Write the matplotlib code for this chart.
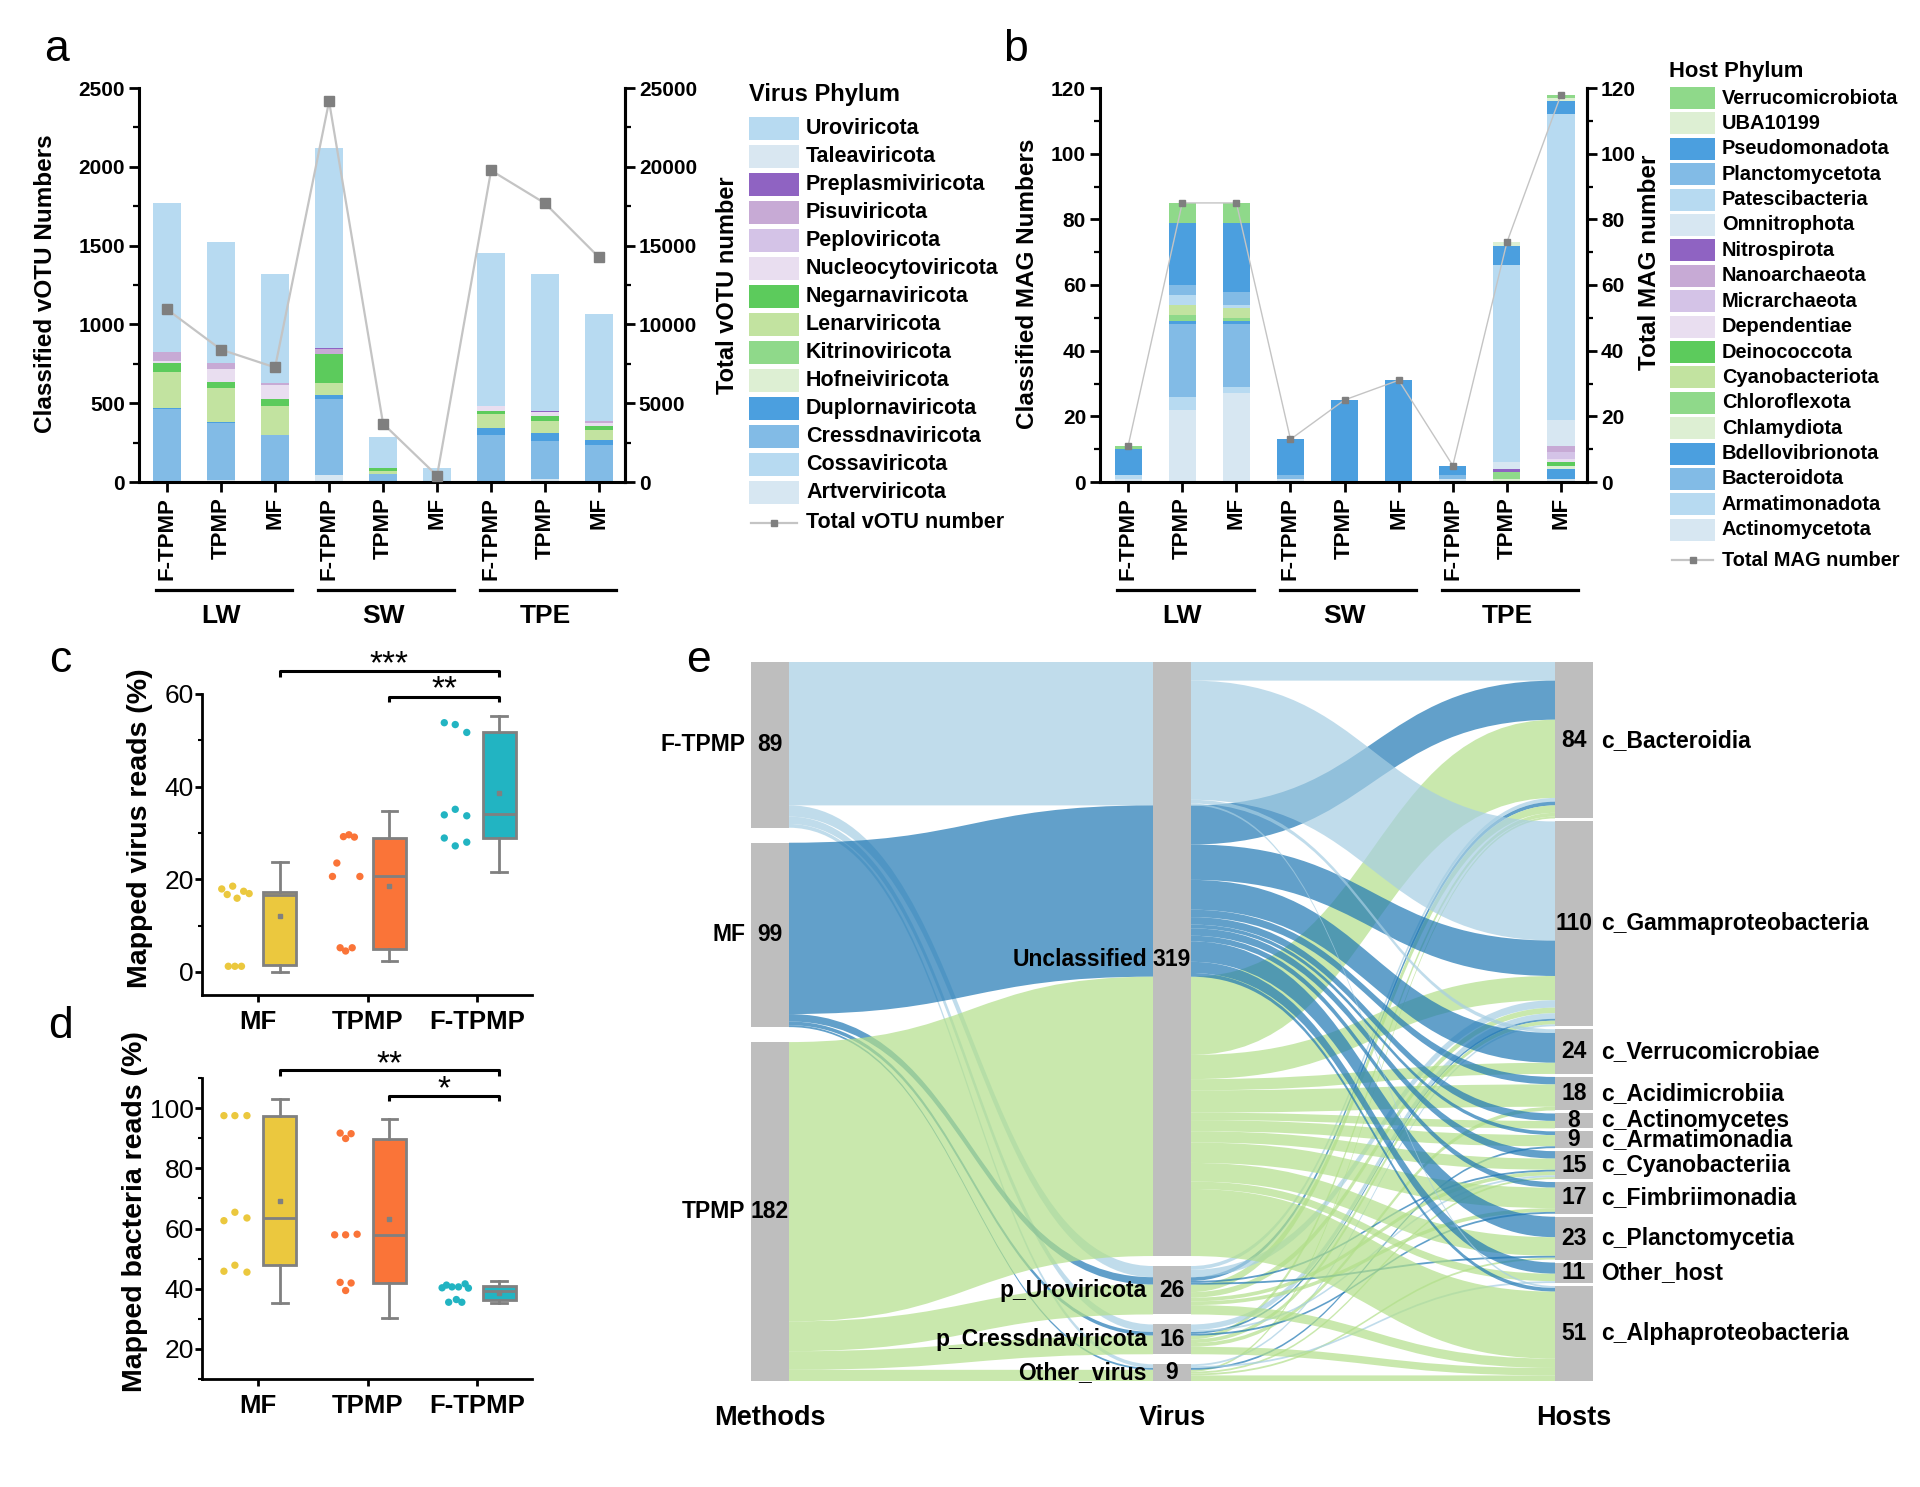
import numpy as np
import matplotlib
matplotlib.use('Agg')
import matplotlib.pyplot as plt
from matplotlib.patches import Rectangle, PathPatch
from matplotlib.path import Path
from matplotlib.lines import Line2D
import matplotlib.transforms as mtransforms
from matplotlib.ticker import MultipleLocator

plt.rcParams['font.family'] = ['Liberation Sans', 'DejaVu Sans']

# ------------------------------------------------------------------ data
samples = ['F-TPMP', 'TPMP', 'MF', 'F-TPMP', 'TPMP', 'MF', 'F-TPMP', 'TPMP', 'MF']
sites = ['LW', 'SW', 'TPE']

# panel a : classified vOTU numbers per virus phylum (legend order top -> bottom)
virus_phyla = ['Uroviricota', 'Taleaviricota', 'Preplasmiviricota', 'Pisuviricota',
               'Peploviricota', 'Nucleocytoviricota', 'Negarnaviricota', 'Lenarviricota',
               'Kitrinoviricota', 'Hofneiviricota', 'Duplornaviricota', 'Cressdnaviricota',
               'Cossaviricota', 'Artverviricota']
uroviricota = [949, 771, 689, 1271, 199, 91, 970, 867, 678]
taleaviricota = [0, 0, 0, 0, 0, 0, 0, 0, 0]
preplasmiviricota = [0, 0, 0, 8, 0, 0, 0, 8, 0]
pisuviricota = [57, 34, 16, 30, 0, 0, 0, 0, 12]
peploviricota = [0, 0, 0, 0, 0, 0, 0, 0, 0]
nucleocytoviricota = [15, 84, 89, 0, 0, 0, 29, 26, 21]
negarnaviricota = [55, 36, 39, 182, 17, 0, 21, 34, 22]
lenarviricota = [226, 218, 184, 79, 17, 0, 85, 74, 67]
kitrinoviricota = [0, 0, 0, 0, 0, 0, 0, 0, 0]
hofneiviricota = [0, 0, 0, 0, 0, 0, 0, 0, 0]
duplornaviricota = [5, 5, 5, 21, 0, 0, 49, 51, 32]
cressdnaviricota = [461, 365, 291, 487, 53, 0, 291, 239, 228]
cossaviricota = [0, 0, 0, 0, 0, 0, 0, 0, 0]
artverviricota = [5, 10, 5, 42, 0, 0, 5, 21, 5]
total_votu = [10950, 8400, 7270, 24150, 3700, 400, 19770, 17680, 14250]

virus_values = dict(zip(virus_phyla, [uroviricota, taleaviricota, preplasmiviricota, pisuviricota,
                                      peploviricota, nucleocytoviricota, negarnaviricota, lenarviricota,
                                      kitrinoviricota, hofneiviricota, duplornaviricota, cressdnaviricota,
                                      cossaviricota, artverviricota]))

# panel b : classified MAG numbers per host phylum (legend order top -> bottom)
host_phyla = ['Verrucomicrobiota', 'UBA10199', 'Pseudomonadota', 'Planctomycetota',
              'Patescibacteria', 'Omnitrophota', 'Nitrospirota', 'Nanoarchaeota',
              'Micrarchaeota', 'Dependentiae', 'Deinococcota', 'Cyanobacteriota',
              'Chloroflexota', 'Chlamydiota', 'Bdellovibrionota', 'Bacteroidota',
              'Armatimonadota', 'Actinomycetota']
verrucomicrobiota = [1, 6, 6, 0, 0, 0, 0, 0, 1]
uba10199 = [0, 0, 0, 0, 0, 0, 0, 1, 1]
pseudomonadota = [8, 19, 21, 11, 25, 31, 3, 6, 4]
planctomycetota = [0, 3, 4, 0, 0, 0, 0, 0, 0]
patescibacteria = [0, 3, 1, 0, 0, 0, 0, 60, 93]
omnitrophota = [0, 0, 0, 0, 0, 0, 0, 2, 8]
nitrospirota = [0, 0, 0, 0, 0, 0, 0, 1, 0]
nanoarchaeota = [0, 0, 0, 0, 0, 0, 0, 0, 2]
micrarchaeota = [0, 0, 0, 0, 0, 0, 0, 0, 2]
dependentiae = [0, 0, 0, 0, 0, 0, 0, 0, 1]
deinococcota = [0, 0, 0, 0, 0, 0, 0, 0, 1]
cyanobacteriota = [0, 3, 3, 0, 0, 0, 0, 0, 0]
chloroflexota = [0, 2, 1, 0, 0, 0, 0, 2, 0]
chlamydiota = [0, 0, 0, 0, 0, 0, 0, 1, 1]
bdellovibrionota = [0, 1, 1, 0, 0, 0, 0, 0, 3]
bacteroidota = [0, 22, 19, 1, 0, 0, 1, 0, 0]
armatimonadota = [1, 4, 2, 0, 0, 0, 0, 0, 0]
actinomycetota = [1, 22, 27, 1, 0, 0, 1, 0, 1]
total_mag = [11, 85, 85, 13, 25, 31, 5, 73, 118]

host_values = dict(zip(host_phyla, [verrucomicrobiota, uba10199, pseudomonadota, planctomycetota,
                                    patescibacteria, omnitrophota, nitrospirota, nanoarchaeota,
                                    micrarchaeota, dependentiae, deinococcota, cyanobacteriota,
                                    chloroflexota, chlamydiota, bdellovibrionota, bacteroidota,
                                    armatimonadota, actinomycetota]))

# panels c / d : mapped reads (%)
methods_cd = ['MF', 'TPMP', 'F-TPMP']
virus_reads_mf = [17.9, 16.7, 18.5, 15.9, 17.4, 16.9, 1.2, 1.2, 1.2]
virus_reads_tpmp = [20.6, 23.5, 29.2, 29.6, 29.1, 20.6, 5.2, 4.5, 5.2]
virus_reads_ftpmp = [53.8, 53.4, 51.7, 33.9, 35.1, 33.7, 28.9, 27.2, 28.0]
# box statistics: q1, median, q3, whisker low, whisker high, mean
virus_box_mf = [1.4, 16.7, 17.3, 0.0, 23.8, 12.0]
virus_box_tpmp = [5.0, 20.6, 29.0, 2.4, 34.8, 18.6]
virus_box_ftpmp = [28.9, 34.1, 51.7, 21.6, 55.2, 38.6]

bact_reads_mf = [97.5, 97.5, 97.5, 62.6, 65.4, 63.5, 45.8, 47.8, 45.5]
bact_reads_tpmp = [57.9, 57.9, 58.1, 91.7, 89.9, 91.5, 42.1, 39.4, 41.9]
bact_reads_ftpmp = [40.3, 41.2, 40.6, 40.6, 41.6, 40.2, 35.5, 36.4, 35.5]
bact_box_mf = [47.8, 63.5, 97.5, 35.3, 103.0, 69.0]
bact_box_tpmp = [41.9, 58.0, 89.7, 30.3, 96.5, 63.2]
bact_box_ftpmp = [36.4, 39.4, 41.0, 35.3, 42.7, 38.6]

# panel e : sankey flows  method -> virus -> host
sk_methods = ['F-TPMP', 'MF', 'TPMP']
sk_viruses = ['Unclassified', 'p_Uroviricota', 'p_Cressdnaviricota', 'Other_virus']
sk_hosts = ['c_Bacteroidia', 'c_Gammaproteobacteria', 'c_Verrucomicrobiae', 'c_Acidimicrobiia',
            'c_Actinomycetes', 'c_Armatimonadia', 'c_Cyanobacteriia', 'c_Fimbriimonadia',
            'c_Planctomycetia', 'Other_host', 'c_Alphaproteobacteria']
# counts per host (in sk_hosts order) for each method / virus
ftpmp_unclassified = [10, 64, 2, 0, 0, 0, 0, 0, 0, 0, 1]
ftpmp_uroviricota = [2, 4, 0, 0, 0, 0, 0, 0, 0, 0, 0]
ftpmp_cressdnaviricota = [0, 3, 0, 0, 0, 0, 1, 0, 0, 0, 0]
ftpmp_other_virus = [0, 1, 0, 0, 0, 0, 0, 0, 0, 1, 0]
mf_unclassified = [21, 19, 16, 4, 4, 2, 4, 3, 11, 6, 2]
mf_uroviricota = [2, 0, 0, 0, 0, 0, 1, 0, 1, 0, 0]
mf_cressdnaviricota = [0, 1, 0, 0, 0, 0, 0, 1, 0, 0, 0]
mf_other_virus = [0, 0, 0, 0, 0, 1, 0, 0, 0, 0, 0]
tpmp_unclassified = [42, 13, 6, 12, 4, 6, 6, 11, 10, 4, 36]
tpmp_uroviricota = [4, 3, 0, 0, 0, 0, 2, 2, 0, 0, 5]
tpmp_cressdnaviricota = [2, 2, 0, 2, 0, 0, 0, 0, 0, 0, 4]
tpmp_other_virus = [1, 0, 0, 0, 0, 0, 1, 0, 1, 0, 3]

sk_flows = {
    'F-TPMP': [ftpmp_unclassified, ftpmp_uroviricota, ftpmp_cressdnaviricota, ftpmp_other_virus],
    'MF': [mf_unclassified, mf_uroviricota, mf_cressdnaviricota, mf_other_virus],
    'TPMP': [tpmp_unclassified, tpmp_uroviricota, tpmp_cressdnaviricota, tpmp_other_virus],
}

# ------------------------------------------------------------------ styles
virus_colors = {
    'Uroviricota': '#B7DAF1', 'Taleaviricota': '#D9E7F1', 'Preplasmiviricota': '#8F63C2',
    'Pisuviricota': '#C7AAD5', 'Peploviricota': '#D4C3E7', 'Nucleocytoviricota': '#E9DEF0',
    'Negarnaviricota': '#5CCB5C', 'Lenarviricota': '#C2E3A0', 'Kitrinoviricota': '#8FD98A',
    'Hofneiviricota': '#DDEFD3', 'Duplornaviricota': '#4B9FDF', 'Cressdnaviricota': '#82BBE6',
    'Cossaviricota': '#B7DAF1', 'Artverviricota': '#D7E7F2'}
host_colors = {
    'Verrucomicrobiota': '#8FD98A', 'UBA10199': '#DDEFD3', 'Pseudomonadota': '#4B9FDF',
    'Planctomycetota': '#82BBE6', 'Patescibacteria': '#B7DAF1', 'Omnitrophota': '#D7E7F2',
    'Nitrospirota': '#8F63C2', 'Nanoarchaeota': '#C7AAD5', 'Micrarchaeota': '#D4C3E7',
    'Dependentiae': '#E9DEF0', 'Deinococcota': '#5CCB5C', 'Cyanobacteriota': '#C2E3A0',
    'Chloroflexota': '#8FD98A', 'Chlamydiota': '#DDEFD3', 'Bdellovibrionota': '#4B9FDF',
    'Bacteroidota': '#82BBE6', 'Armatimonadota': '#B7DAF1', 'Actinomycetota': '#D7E7F2'}
box_colors = ['#EBC83E', '#FA7438', '#22B4C2']
flow_colors = {'F-TPMP': '#a6cee3', 'MF': '#1f78b4', 'TPMP': '#b2df8a'}
GRAY = '#808080'
NODE = '#BEBEBE'

W, H = 1920, 1487
fig = plt.figure(figsize=(W / 100, H / 100), dpi=100)
fig.patch.set_facecolor('white')


def rect(x0, y0, x1, y1):
    return [x0 / W, 1 - y1 / H, (x1 - x0) / W, (y1 - y0) / H]


def fy(py):
    return 1 - py / H


# overlay axes in pixel coordinates for labels / legends / sankey
ov = fig.add_axes([0, 0, 1, 1], zorder=5)
ov.set_xlim(0, W)
ov.set_ylim(H, 0)
ov.axis('off')


def stacked_panel(rect_px, order, values, colors, width, ymax, ymaj, ymin, totals, rmax, rmaj, rmin,
                  line_ms, line_lw):
    ax = fig.add_axes(rect(*rect_px))
    xs = np.arange(len(samples))
    bottom = np.zeros(len(samples))
    for name in reversed(order):
        v = np.array(values[name], dtype=float)
        ax.bar(xs, v, width, bottom=bottom, color=colors[name], linewidth=0)
        bottom += v
    ax.set_xlim(-0.52, 8.48)
    ax.set_ylim(0, ymax)
    ax.spines['top'].set_visible(False)
    for s in ['left', 'bottom', 'right']:
        ax.spines[s].set_linewidth(2.2)
    ax.yaxis.set_major_locator(MultipleLocator(ymaj))
    ax.yaxis.set_minor_locator(MultipleLocator(ymin))
    ax.tick_params(axis='y', which='major', length=7, width=2, labelsize=15, pad=3)
    ax.tick_params(axis='y', which='minor', length=4, width=1.6)
    ax.set_xticks(xs)
    ax.set_xticklabels(samples, rotation=90, fontweight='bold', fontsize=16)
    ax.tick_params(axis='x', length=7, width=2, pad=4)
    for lbl in ax.get_yticklabels():
        lbl.set_fontweight('bold')
    tw = ax.twinx()
    tw.plot(xs, totals, color='#c4c4c4', lw=line_lw, marker='s', ms=line_ms,
            mfc='#7f7f7f', mec='#7f7f7f', zorder=3)
    tw.set_ylim(0, rmax)
    tw.spines['top'].set_visible(False)
    tw.spines['right'].set_linewidth(2.2)
    tw.spines['left'].set_visible(False)
    tw.yaxis.set_major_locator(MultipleLocator(rmaj))
    tw.yaxis.set_minor_locator(MultipleLocator(rmin))
    tw.tick_params(axis='y', which='major', length=7, width=2, labelsize=15, pad=3)
    tw.tick_params(axis='y', which='minor', length=4, width=1.6)
    for lbl in tw.get_yticklabels():
        lbl.set_fontweight('bold')
    # site groups
    trans = mtransforms.blended_transform_factory(ax.transData, fig.transFigure)
    for i, g in enumerate(sites):
        fig.add_artist(Line2D([3 * i - 0.2, 3 * i + 2.32], [fy(590), fy(590)], transform=trans,
                              color='k', lw=2.3))
        fig.text(3 * i + 1, fy(616), g, transform=trans, ha='center', va='center',
                 fontsize=19, fontweight='bold')
    return ax, tw


# ---------------- panel a
stacked_panel((139, 88, 625, 482), virus_phyla, virus_values, virus_colors, 0.52, 2500, 500, 250,
              total_votu, 25000, 5000, 2500, 7, 1.6)
fig.text(46 / W, fy(284), 'Classified vOTU Numbers', rotation=90, ha='center', va='center',
         fontsize=17.5, fontweight='bold')
fig.text(727 / W, fy(285), 'Total vOTU number', rotation=90, ha='center', va='center',
         fontsize=17, fontweight='bold')

# ---------------- panel b
stacked_panel((1100, 88, 1587, 482), host_phyla, host_values, host_colors, 0.5, 120, 20, 10,
              total_mag, 120, 20, 10, 5, 1.0)
fig.text(1027 / W, fy(284), 'Classified MAG Numbers', rotation=90, ha='center', va='center',
         fontsize=17.5, fontweight='bold')
fig.text(1650 / W, fy(262), 'Total MAG number', rotation=90, ha='center', va='center',
         fontsize=17.5, fontweight='bold')


# ---------------- legends
def legend(title, tx, ty, names, colors, x0, y0, step, pw, ph, fs, tfs, line_label, line_y, ms):
    ov.text(tx, ty, title, ha='left', va='center', fontsize=tfs, fontweight='bold')
    for i, n in enumerate(names):
        y = y0 + i * step
        ov.add_patch(Rectangle((x0, y), pw, ph, facecolor=colors[n], edgecolor='none'))
        ov.text(x0 + pw + 7, y + ph / 2, n, ha='left', va='center', fontsize=fs, fontweight='bold')
    ov.plot([x0 + 2, x0 + pw - 2], [line_y, line_y], color='#c4c4c4', lw=1.6)
    ov.plot([x0 + pw / 2], [line_y], marker='s', ms=ms, color='#7f7f7f', lw=0)
    ov.text(x0 + pw + 7, line_y, line_label, ha='left', va='center', fontsize=fs, fontweight='bold')


legend('Virus Phylum', 749, 95, virus_phyla, virus_colors, 749, 117, 28, 50, 23, 15.5, 17,
       'Total vOTU number', 523, 5)
legend('Host Phylum', 1669, 72, host_phyla, host_colors, 1670, 87, 25.4, 45, 22, 14.4, 15.8,
       'Total MAG number', 560, 4)


# ---------------- panels c / d
def box_panel(rect_px, groups, boxes, jitters, ylim, ymaj, ymin):
    ax = fig.add_axes(rect(*rect_px))
    pos = np.arange(3)
    stats = []
    for b in boxes:
        q1, med, q3, lo, hi, mean = b
        stats.append(dict(q1=q1, med=med, q3=q3, whislo=lo, whishi=hi, mean=mean, fliers=[]))
    bp = ax.bxp(stats, positions=pos + 0.2, widths=0.3, patch_artist=True, showmeans=True,
                showfliers=False, capwidths=0.14,
                boxprops=dict(edgecolor=GRAY, linewidth=2),
                whiskerprops=dict(color=GRAY, linewidth=2),
                capprops=dict(color=GRAY, linewidth=2),
                medianprops=dict(color=GRAY, linewidth=2),
                meanprops=dict(marker='s', markersize=2.5, markerfacecolor=GRAY,
                               markeredgecolor=GRAY))
    for patch, c in zip(bp['boxes'], box_colors):
        patch.set_facecolor(c)
    for i, (vals, jit) in enumerate(zip(groups, jitters)):
        ax.scatter(i + np.array(jit), vals, s=28, color=box_colors[i], edgecolors='none', zorder=3)
    ax.set_xlim(-0.51, 2.5)
    ax.set_ylim(*ylim)
    ax.spines['top'].set_visible(False)
    ax.spines['right'].set_visible(False)
    ax.spines['left'].set_linewidth(2)
    ax.spines['bottom'].set_linewidth(2)
    ax.set_xticks(pos)
    ax.set_xticklabels(methods_cd, fontweight='bold', fontsize=18.5)
    ax.tick_params(axis='x', length=5, width=2, pad=6)
    ax.yaxis.set_major_locator(MultipleLocator(ymaj))
    ax.yaxis.set_minor_locator(MultipleLocator(ymin))
    ax.tick_params(axis='y', which='major', length=5, width=2, labelsize=19, pad=1)
    ax.tick_params(axis='y', which='minor', length=3, width=1.5)
    return ax


def bracket(ax, x1, x2, y, drop, text, ty):
    ax.plot([x1, x1, x2, x2], [y - drop, y, y, y - drop], color='k', lw=2.2, clip_on=False,
            solid_capstyle='butt')
    ax.text((x1 + x2) / 2, ty, text, ha='center', va='baseline', fontsize=24, clip_on=False)


jit_c = [[-0.33, -0.28, -0.23, -0.19, -0.13, -0.08, -0.27, -0.21, -0.15],
         [-0.32, -0.28, -0.22, -0.17, -0.12, -0.07, -0.25, -0.20, -0.14],
         [-0.30, -0.20, -0.095, -0.30, -0.20, -0.095, -0.30, -0.20, -0.095]]
jit_d = [[-0.31, -0.21, -0.10, -0.31, -0.21, -0.10, -0.31, -0.21, -0.10],
         [-0.30, -0.20, -0.095, -0.25, -0.20, -0.15, -0.25, -0.20, -0.15],
         [-0.32, -0.28, -0.23, -0.17, -0.11, -0.08, -0.26, -0.19, -0.14]]

ax_c = box_panel((202, 694, 532, 995), [virus_reads_mf, virus_reads_tpmp, virus_reads_ftpmp],
                 [virus_box_mf, virus_box_tpmp, virus_box_ftpmp], jit_c, (-5, 60), 20, 10)
bracket(ax_c, 0.2, 2.2, 65.0, 1.3, '***', 64.5)
bracket(ax_c, 1.2, 2.2, 59.4, 1.2, '**', 59.0)
fig.text(140 / W, fy(828), 'Mapped virus reads (%)', rotation=90, ha='center', va='center',
         fontsize=20.5, fontweight='bold')

ax_d = box_panel((202, 1078, 532, 1379), [bact_reads_mf, bact_reads_tpmp, bact_reads_ftpmp],
                 [bact_box_mf, bact_box_tpmp, bact_box_ftpmp], jit_d, (10, 110), 20, 10)
ax_d.set_yticks([20, 40, 60, 80, 100])
bracket(ax_d, 0.2, 2.2, 112.5, 1.8, '**', 111.6)
bracket(ax_d, 1.2, 2.2, 104.1, 1.9, '*', 103.2)
fig.text(135 / W, fy(1212), 'Mapped bacteria reads (%)', rotation=90, ha='center', va='center',
         fontsize=20.5, fontweight='bold')

# ---------------- panel e : sankey
col_x = {'m': 751, 'v': 1153, 'h': 1555}
node_w = 38
top_px, bot_px, pad_total = 662, 1381, 30

mv = {m: [sum(sk_flows[m][vi]) for vi in range(len(sk_viruses))] for m in sk_methods}
m_tot = [sum(mv[m]) for m in sk_methods]
v_tot = [sum(mv[m][vi] for m in sk_methods) for vi in range(len(sk_viruses))]
h_tot = [sum(sk_flows[m][vi][hi] for m in sk_methods for vi in range(len(sk_viruses)))
         for hi in range(len(sk_hosts))]
grand = sum(m_tot)
scale = (bot_px - top_px - pad_total) / grand


def layout(tots):
    gap = pad_total / (len(tots) - 1)
    ys, y = [], top_px
    for t in tots:
        ys.append(y)
        y += t * scale + gap
    return ys


m_y, v_y, h_y = layout(m_tot), layout(v_tot), layout(h_tot)


def band(x0, ya0, x1, ya1, thick, color):
    xm = (x0 + x1) / 2
    yb0, yb1 = ya0 + thick, ya1 + thick
    verts = [(x0, ya0), (xm, ya0), (xm, ya1), (x1, ya1), (x1, yb1), (xm, yb1), (xm, yb0), (x0, yb0),
             (x0, ya0)]
    codes = [Path.MOVETO, Path.CURVE4, Path.CURVE4, Path.CURVE4, Path.LINETO, Path.CURVE4,
             Path.CURVE4, Path.CURVE4, Path.CLOSEPOLY]
    ov.add_patch(PathPatch(Path(verts, codes), facecolor=color, edgecolor='none', alpha=0.7,
                           zorder=1))


# method -> virus
v_in = list(v_y)
for mi, m in enumerate(sk_methods):
    off = m_y[mi]
    for vi in range(len(sk_viruses)):
        c = mv[m][vi]
        if c == 0:
            continue
        t = c * scale
        band(col_x['m'] + node_w, off, col_x['v'], v_in[vi], t, flow_colors[m])
        off += t
        v_in[vi] += t

# virus -> host
links = []
for vi in range(len(sk_viruses)):
    off = v_y[vi]
    for m in sk_methods:
        for hi in range(len(sk_hosts)):
            c = sk_flows[m][vi][hi]
            if c == 0:
                continue
            links.append((hi, off, c * scale, m))
            off += c * scale
h_in = list(h_y)
for hi in range(len(sk_hosts)):
    for (lh, ys, t, m) in sorted([l for l in links if l[0] == hi], key=lambda l: l[1]):
        band(col_x['v'] + node_w, ys, col_x['h'], h_in[hi], t, flow_colors[m])
        h_in[hi] += t

# nodes + labels
lab_fs = 16.5
for names, tots, ys, key in [(sk_methods, m_tot, m_y, 'm'), (sk_viruses, v_tot, v_y, 'v'),
                             (sk_hosts, h_tot, h_y, 'h')]:
    x0 = col_x[key]
    for n, t, y in zip(names, tots, ys):
        ov.add_patch(Rectangle((x0, y), node_w, t * scale, facecolor=NODE, edgecolor='none', zorder=2))
        yc = y + t * scale / 2
        ov.text(x0 + node_w / 2, yc, str(t), ha='center', va='center', fontsize=lab_fs,
                fontweight='bold', zorder=4)
        if key == 'h':
            ov.text(x0 + node_w + 8, yc, n, ha='left', va='center', fontsize=lab_fs,
                    fontweight='bold', zorder=4)
        else:
            ov.text(x0 - 6, yc, n, ha='right', va='center', fontsize=lab_fs, fontweight='bold',
                    zorder=4)

for key, title in [('m', 'Methods'), ('v', 'Virus'), ('h', 'Hosts')]:
    ov.text(col_x[key] + node_w / 2, 1418, title, ha='center', va='center', fontsize=19.5,
            fontweight='bold')

# panel letters
for letter, x, y in [('a', 56, 61), ('b', 1016, 61), ('c', 60, 672), ('d', 60, 1038), ('e', 698, 672)]:
    ov.text(x, y, letter, ha='center', va='baseline', fontsize=32)

fig.savefig('out.png', dpi=100, facecolor='white')
